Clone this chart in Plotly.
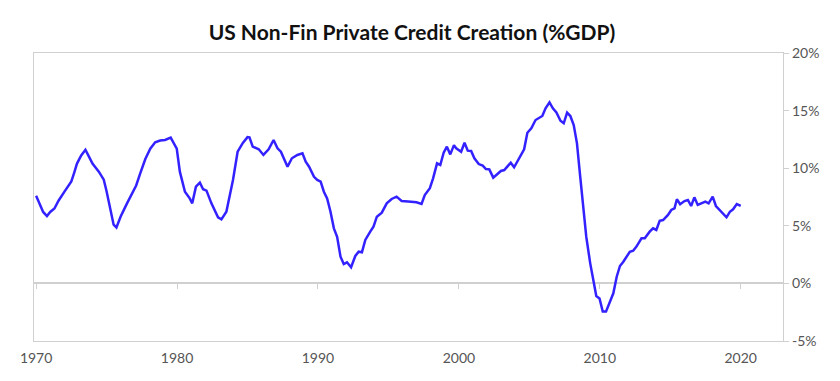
import plotly.graph_objects as go

years = [1970.0, 1970.25, 1970.5, 1970.77, 1971.0, 1971.3, 1971.6, 1972.0, 1972.25, 1972.5,
         1972.7, 1972.9, 1973.2, 1973.5, 1973.75, 1974.0, 1974.45, 1974.8, 1975.0, 1975.28,
         1975.5, 1975.7, 1976.0, 1976.45, 1977.1, 1977.4, 1977.75, 1978.1, 1978.45, 1978.8,
         1979.15, 1979.55, 1979.98, 1980.2, 1980.56, 1980.9, 1981.08, 1981.34, 1981.62, 1981.85,
         1982.09, 1982.44, 1982.91, 1983.15, 1983.5, 1983.97, 1984.3, 1984.67, 1985.0, 1985.14,
         1985.37, 1985.8, 1986.13, 1986.5, 1986.85, 1987.13, 1987.37, 1987.84, 1988.15, 1988.54,
         1988.9, 1989.13, 1989.37, 1989.72, 1989.95, 1990.19, 1990.42, 1990.65, 1990.89, 1991.13,
         1991.36, 1991.6, 1991.83, 1992.06, 1992.35, 1992.65, 1992.89, 1993.12, 1993.36, 1993.71,
         1993.94, 1994.18, 1994.53, 1994.88, 1995.23, 1995.58, 1995.94, 1996.4, 1996.76, 1996.99,
         1997.35, 1997.58, 1997.94, 1998.17, 1998.45, 1998.68, 1998.92, 1999.15, 1999.39, 1999.65,
         1999.81, 2000.16, 2000.4, 2000.63, 2000.87, 2001.1, 2001.41, 2001.69, 2001.92, 2002.16,
         2002.44, 2002.75, 2002.98, 2003.22, 2003.45, 2003.68, 2003.92, 2004.27, 2004.63, 2004.86,
         2005.14, 2005.44, 2005.92, 2006.15, 2006.43, 2006.67, 2006.92, 2007.21, 2007.44, 2007.68,
         2007.91, 2008.15, 2008.38, 2008.61, 2008.85, 2009.04, 2009.32, 2009.63, 2009.75, 2009.98,
         2010.21, 2010.44, 2010.68, 2010.96, 2011.2, 2011.43, 2011.67, 2011.9, 2012.13, 2012.37,
         2012.6, 2012.96, 2013.19, 2013.54, 2013.78, 2014.01, 2014.25, 2014.49, 2014.84, 2015.07,
         2015.3, 2015.47, 2015.7, 2016.01, 2016.25, 2016.48, 2016.71, 2016.95, 2017.25, 2017.49,
         2017.72, 2018.01, 2018.24, 2018.59, 2018.99, 2019.23, 2019.46, 2019.72, 2020.0]

credit_pct = [7.6, 6.9, 6.2, 5.85, 6.2, 6.5, 7.2, 7.95, 8.4, 8.85,
              9.6, 10.4, 11.1, 11.6, 11.0, 10.4, 9.7, 9.0, 8.0, 6.3,
              5.1, 4.85, 5.8, 6.95, 8.5, 9.6, 10.8, 11.7, 12.25, 12.4,
              12.45, 12.65, 11.7, 9.7, 7.96, 7.38, 6.95, 8.4, 8.74, 8.17,
              8.05, 6.95, 5.74, 5.56, 6.22, 8.98, 11.43, 12.2, 12.7, 12.68,
              11.87, 11.64, 11.15, 11.64, 12.45, 11.73, 11.43, 10.13, 10.86, 11.15,
              11.29, 10.56, 10.13, 9.25, 8.98, 8.83, 7.96, 7.38, 6.22, 4.78,
              4.05, 2.32, 1.68, 1.83, 1.4, 2.38, 2.75, 2.7, 3.77, 4.49,
              4.92, 5.79, 6.14, 6.95, 7.33, 7.53, 7.15, 7.1, 7.09, 7.04,
              6.89, 7.67, 8.26, 9.12, 10.42, 10.28, 11.35, 11.87, 11.2, 12.0,
              11.73, 11.43, 12.21, 11.52, 11.49, 10.86, 10.36, 10.22, 9.93, 9.9,
              9.18, 9.5, 9.76, 9.84, 10.19, 10.48, 10.08, 10.86, 11.64, 13.08,
              13.46, 14.18, 14.53, 15.2, 15.72, 15.2, 14.85, 14.12, 13.9, 14.82,
              14.53, 13.75, 12.16, 9.26, 6.37, 4.05, 1.74, -0.43, -1.1, -1.3,
              -2.45, -2.45, -1.73, -0.86, 0.58, 1.51, 1.88, 2.38, 2.75, 2.84,
              3.19, 3.91, 3.91, 4.49, 4.78, 4.64, 5.44, 5.5, 5.94, 6.37,
              6.52, 7.3, 6.87, 7.15, 7.24, 6.72, 7.47, 6.81, 6.95, 7.09,
              6.95, 7.53, 6.72, 6.22, 5.74, 6.22, 6.43, 6.89, 6.72]

x_ticks = [1970, 1980, 1990, 2000, 2010, 2020]
y_ticks = [-5, 0, 5, 10, 15, 20]
y_tick_labels = ["-5%", "0%", "5%", "10%", "15%", "20%"]

title_text = "US Non-Fin Private Credit Creation (%GDP)"

AXIS_GRAY = "#d0d0d0"
LABEL_GRAY = "#555555"
X_RANGE = [1969.85, 2023.0]
FONT = "Lato, 'Open Sans', sans-serif"

fig = go.Figure()
fig.add_trace(go.Scatter(
    x=years, y=credit_pct, mode="lines",
    line=dict(color="#3322ff", width=2.5),
    hoverinfo="skip", showlegend=False,
))
# invisible companion trace so the tick-only axis at the 0% line is drawn
fig.add_trace(go.Scatter(
    x=years, y=credit_pct, mode="lines", xaxis="x2", yaxis="y",
    line=dict(color="rgba(0,0,0,0)", width=0),
    hoverinfo="skip", showlegend=False,
))

# the page body adds an 8px offset, so margins are shifted up/left by 8px
fig.update_layout(
    width=840, height=381,
    margin=dict(l=20, r=65, t=45, b=48),
    paper_bgcolor="white", plot_bgcolor="white",
    font=dict(family=FONT, color=LABEL_GRAY, size=14),
    title=dict(text="<b>" + title_text + "</b>", x=(412 - 8) / 840, xref="container",
               xanchor="center", y=1 - 25 / 381, yref="container", yanchor="middle",
               font=dict(family=FONT, size=21, color="#111111")),
    xaxis=dict(range=X_RANGE, tickvals=x_ticks, ticktext=[str(v) for v in x_ticks],
               showgrid=False, zeroline=False, showline=True, linecolor=AXIS_GRAY,
               linewidth=1.3, mirror=True, ticks="", ticklabelstandoff=4,
               tickfont=dict(family=FONT, size=14, color=LABEL_GRAY)),
    xaxis2=dict(range=X_RANGE, overlaying="x", anchor="free", position=0.2,
                tickvals=x_ticks, showticklabels=False, showgrid=False, zeroline=False,
                showline=False, ticks="outside", ticklen=5, tickcolor=AXIS_GRAY, tickwidth=1.3),
    yaxis=dict(range=[-5, 20], side="right", tickvals=y_ticks, ticktext=y_tick_labels,
               showgrid=False, zeroline=True, zerolinecolor=AXIS_GRAY, zerolinewidth=1.5,
               showline=True, linecolor=AXIS_GRAY, linewidth=1.3, mirror=True,
               ticks="outside", ticklen=5, tickcolor=AXIS_GRAY, tickwidth=1.3,
               tickfont=dict(family=FONT, size=14, color=LABEL_GRAY)),
)

fig.write_html("out.html")
